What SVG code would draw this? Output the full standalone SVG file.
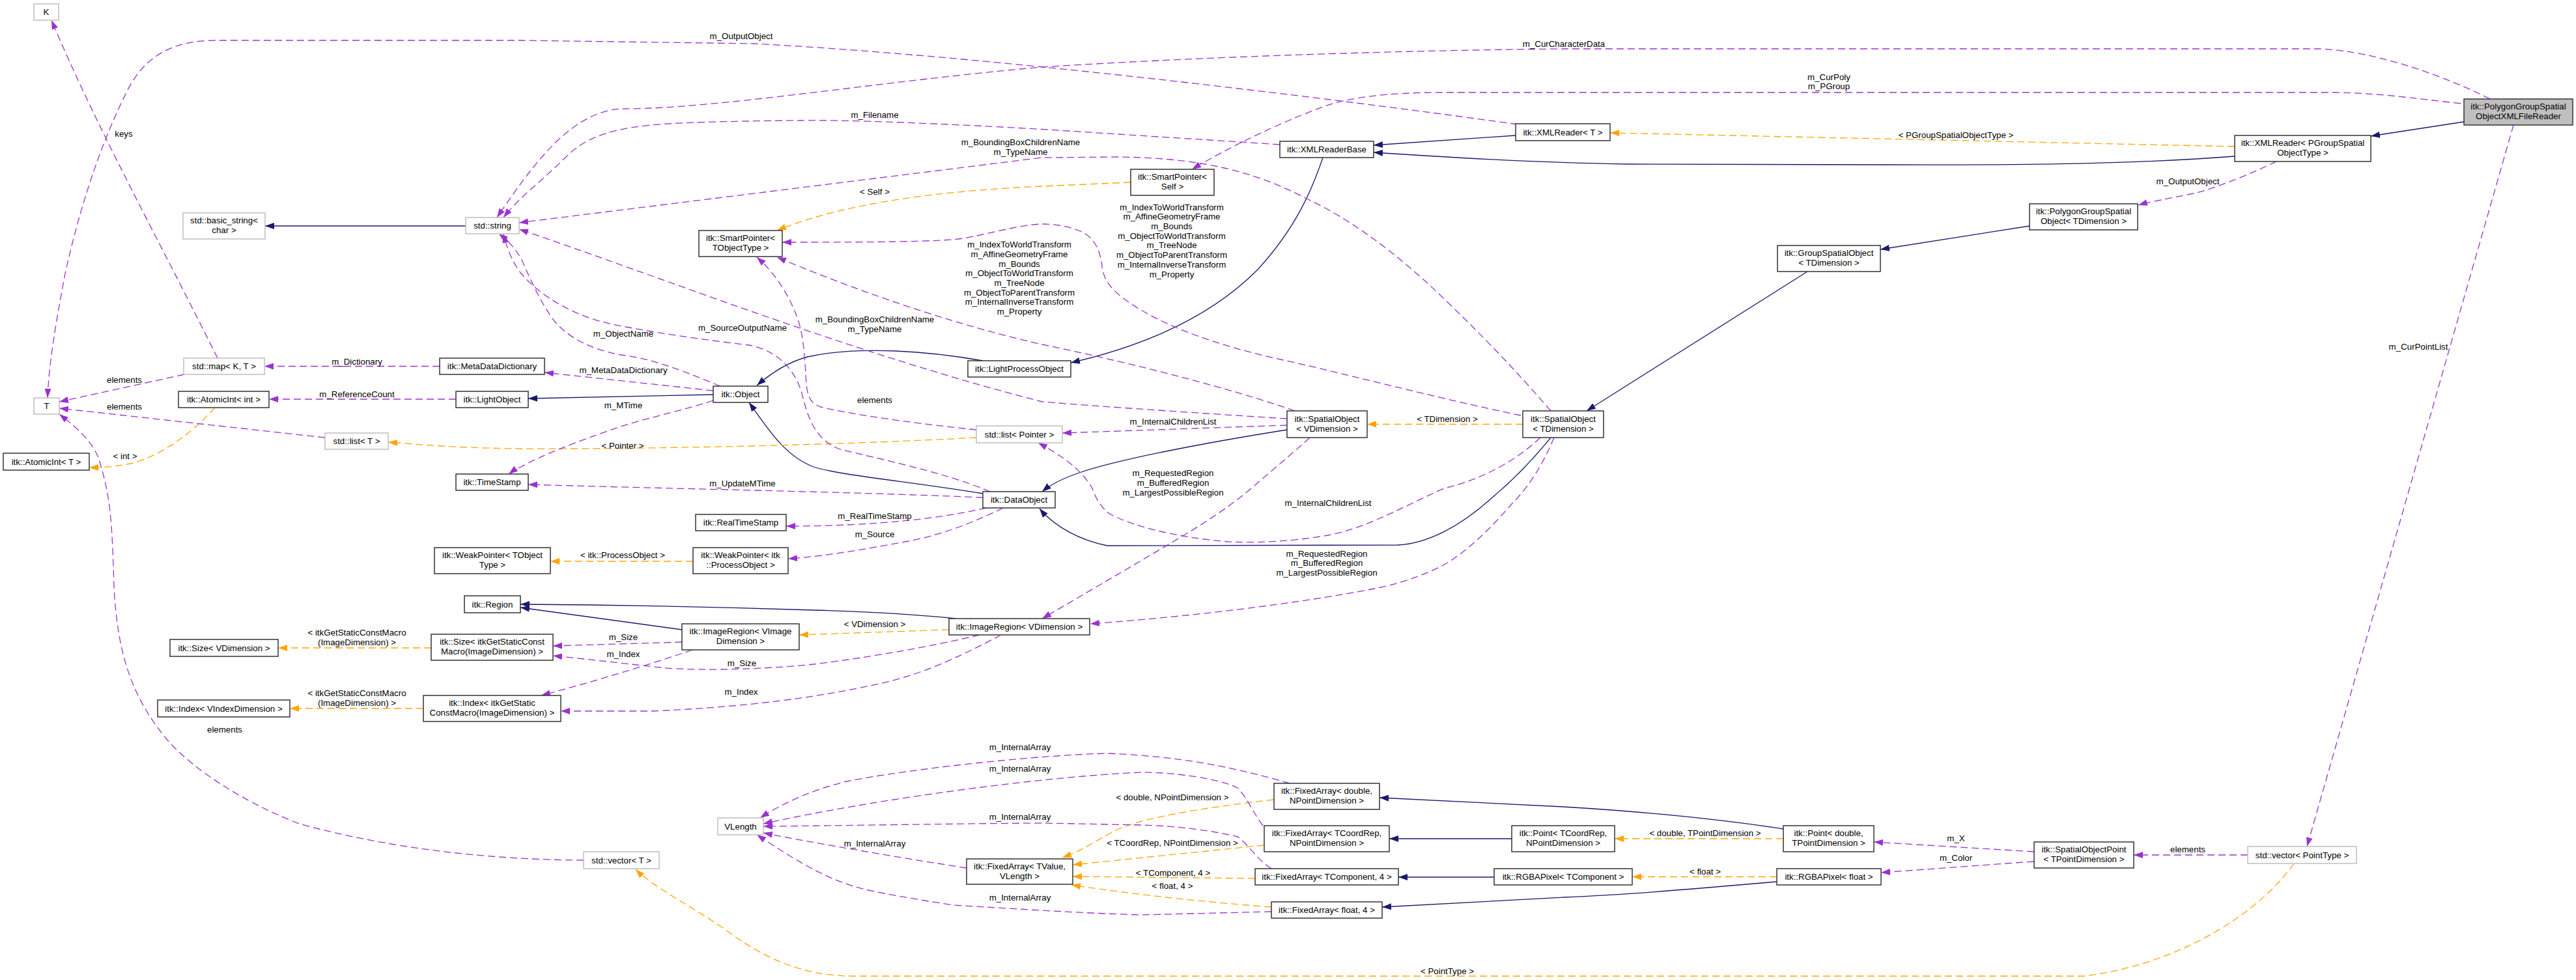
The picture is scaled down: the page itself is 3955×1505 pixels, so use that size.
<svg xmlns="http://www.w3.org/2000/svg" width="3955" height="1505" viewBox="0 0 3955 1505">
<style>
text{font-family:"Liberation Sans",Arial,Helvetica,sans-serif;font-size:13.3px;fill:#000;text-anchor:middle}
.nd rect{fill:#fff;stroke:#333;stroke-width:1.5}
.ng rect{fill:#fff;stroke:#bfbfbf;stroke-width:1.5}
.nm rect{fill:#bfbfbf;stroke:#333;stroke-width:1.5}
#edges path{fill:none;stroke-width:1.3}
#edges .inh{stroke:#191970;marker-end:url(#mi)}
#edges .mem{stroke:#9a32cd;stroke-dasharray:11,6;marker-end:url(#mp)}
#edges .tpl{stroke:#ffa500;stroke-dasharray:11,6;marker-end:url(#mo)}
</style>
<defs>
<marker id="mi" markerUnits="userSpaceOnUse" markerWidth="14" markerHeight="10" refX="14" refY="5" orient="auto"><path d="M0,0 L14,5 L0,10 z" fill="#191970"/></marker>
<marker id="mp" markerUnits="userSpaceOnUse" markerWidth="14" markerHeight="10" refX="14" refY="5" orient="auto"><path d="M0,0 L14,5 L0,10 z" fill="#9a32cd"/></marker>
<marker id="mo" markerUnits="userSpaceOnUse" markerWidth="14" markerHeight="10" refX="14" refY="5" orient="auto"><path d="M0,0 L14,5 L0,10 z" fill="#ffa500"/></marker>
</defs>
<rect x="0" y="0" width="3955" height="1505" fill="#fff"/>
<g id="edges">
<!-- inheritance -->
<path class="inh" d="M715,347 L407,347"/>
<path class="inh" d="M3783,187 L3640,209"/>
<path class="inh" d="M3431,240 C3300,250 3150,254 2900,253 L2500,252 C2350,250 2200,240 2109,234"/>
<path class="inh" d="M2327,208 L2109,223"/>
<path class="inh" d="M2031,242 C2015,290 1990,350 1930,415 C1850,495 1740,535 1644,557"/>
<path class="inh" d="M1509,554 C1430,540 1320,530 1240,548 C1210,556 1185,572 1162,592"/>
<path class="inh" d="M1095,606 L811,612"/>
<path class="inh" d="M1509,758 C1400,740 1290,730 1249,717 C1205,700 1180,660 1150,618"/>
<path class="inh" d="M1976,660 C1850,680 1720,705 1660,725 C1630,735 1612,745 1600,755"/>
<path class="inh" d="M2381,672 C2350,710 2320,740 2290,765 C2240,810 2190,835 2146,837 L1700,838 C1660,830 1620,810 1596,781"/>
<path class="inh" d="M2775,417 L2436,631"/>
<path class="inh" d="M3116,347 L2887,383"/>
<path class="inh" d="M2321,1288 L2133,1288"/>
<path class="inh" d="M2738,1273 C2620,1255 2500,1245 2400,1239 C2300,1234 2200,1229 2118,1225"/>
<path class="inh" d="M2294,1347 L2147,1347"/>
<path class="inh" d="M2728,1354 C2600,1365 2500,1374 2400,1378 C2300,1383 2200,1389 2122,1393"/>
<path class="inh" d="M1468,950 C1420,945 1350,940 1250,937 C1100,932 950,929 799,928"/>
<path class="inh" d="M1047,967 L799,933"/>
<!-- template instantiation -->
<path class="tpl" d="M3431,225 L2472,204"/>
<text x="3003" y="211.5">&lt; PGroupSpatialObjectType &gt;</text>
<path class="tpl" d="M1736,280 L1600,286 C1450,293 1300,310 1193,354"/>
<text x="1343" y="298.5">&lt; Self &gt;</text>
<path class="tpl" d="M1499,672 C1300,683 1000,690 800,689 C700,688 650,683 596,679"/>
<text x="956" y="688.5">&lt; Pointer &gt;</text>
<path class="tpl" d="M2338,651.5 L2099,651.5"/>
<text x="2222" y="647.5">&lt; TDimension &gt;</text>
<path class="tpl" d="M330,626 C300,660 250,700 200,712 C175,717 155,718 137,718"/>
<text x="192" y="704.5">&lt; int &gt;</text>
<path class="tpl" d="M1064,862 L845,862"/>
<text x="956" y="857">&lt; itk::ProcessObject &gt;</text>
<path class="tpl" d="M1457,967 L1227,975"/>
<text x="1343" y="963">&lt; VDimension &gt;</text>
<path class="tpl" d="M662,995 L427,995"/>
<text x="548" y="976">&lt; itkGetStaticConstMacro</text>
<text x="548" y="991">(ImageDimension) &gt;</text>
<path class="tpl" d="M650,1088 L445,1088"/>
<text x="548" y="1068.5">&lt; itkGetStaticConstMacro</text>
<text x="548" y="1084">(ImageDimension) &gt;</text>
<path class="tpl" d="M1956,1228 C1850,1240 1760,1255 1720,1272 C1690,1285 1670,1303 1631,1317"/>
<text x="1800" y="1229">&lt; double, NPointDimension &gt;</text>
<path class="tpl" d="M1941,1298 L1647,1328"/>
<text x="1800" y="1298.5">&lt; TCoordRep, NPointDimension &gt;</text>
<path class="tpl" d="M1927,1349 L1647,1346"/>
<text x="1801" y="1344.5">&lt; TComponent, 4 &gt;</text>
<path class="tpl" d="M1952,1393 C1850,1385 1750,1375 1645,1359"/>
<text x="1800" y="1365">&lt; float, 4 &gt;</text>
<path class="tpl" d="M2738,1288 L2479,1288"/>
<text x="2618" y="1284">&lt; double, TPointDimension &gt;</text>
<path class="tpl" d="M2728,1346.5 L2506,1346.5"/>
<text x="2618" y="1342.5">&lt; float &gt;</text>
<path class="tpl" d="M3522,1326 C3470,1400 3350,1480 3200,1499 L1310,1499 C1230,1499 1170,1470 1110,1425 C1050,1385 1000,1360 976,1335"/>
<text x="2222" y="1496">&lt; PointType &gt;</text>
<!-- members -->
<path class="mem" d="M2330,191 C2000,145 1500,85 1157,67 L800,62 L332,62 C260,62 220,90 195,140 C150,230 120,330 100,420 C85,500 75,560 73,611"/>
<text x="1138" y="59.5">m_OutputObject</text>
<path class="mem" d="M3823,152 C3760,120 3650,78 3560,75 L2400,75 C2100,78 1800,90 1600,103 C1350,125 1100,167 960,167 C880,167 820,250 763,334"/>
<text x="2401" y="71.5">m_CurCharacterData</text>
<path class="mem" d="M3778,159 C3700,150 3650,143 3585,142 L2212,142 C2130,142 2070,150 2034,163 C1960,190 1880,230 1830,260"/>
<text x="2808" y="123">m_CurPoly</text>
<text x="2808" y="137">m_PGroup</text>
<path class="mem" d="M3859,192 L3542,1300"/>
<text x="3713" y="536.5">m_CurPointList</text>
<path class="mem" d="M1965,222 L1600,198.5 C1450,190 1310,184 1230,185 C1100,186 1030,189 1000,192 C940,198 900,210 870,240 C830,280 800,300 773,334"/>
<text x="1343" y="180.5">m_Filename</text>
<path class="mem" d="M2381,631 C2320,560 2260,500 2212,454 C2140,385 2070,335 2008,306 C1930,265 1850,243 1720,241 L1600,242 L797,342"/>
<text x="1567" y="223">m_BoundingBoxChildrenName</text>
<text x="1567" y="237.5">m_TypeName</text>
<path class="mem" d="M1976,643 C1850,635 1700,625 1600,617 C1300,540 1000,420 797,352"/>
<text x="1343" y="495">m_BoundingBoxChildrenName</text>
<text x="1343" y="509.5">m_TypeName</text>
<path class="mem" d="M1988,631 C1900,600 1750,560 1600,529 C1450,495 1300,440 1193,395"/>
<text x="1565" y="380.3">m_IndexToWorldTransform</text>
<text x="1565" y="395.1">m_AffineGeometryFrame</text>
<text x="1565" y="410">m_Bounds</text>
<text x="1565" y="424.3">m_ObjectToWorldTransform</text>
<text x="1565" y="439.1">m_TreeNode</text>
<text x="1565" y="453.5">m_ObjectToParentTransform</text>
<text x="1565" y="468.3">m_InternalInverseTransform</text>
<text x="1565" y="483.2">m_Property</text>
<path class="mem" d="M2335,638 C2200,610 2050,570 1957,550 C1870,530 1800,505 1750,475 C1705,448 1695,430 1692,410 C1690,385 1680,365 1661,356 C1640,347 1620,344 1600,344 C1560,345 1500,365 1463,368 C1400,372 1300,372 1201,372"/>
<text x="1799" y="322.9">m_IndexToWorldTransform</text>
<text x="1799" y="337.2">m_AffineGeometryFrame</text>
<text x="1799" y="352.1">m_Bounds</text>
<text x="1799" y="367.4">m_ObjectToWorldTransform</text>
<text x="1799" y="381.3">m_TreeNode</text>
<text x="1799" y="396.1">m_ObjectToParentTransform</text>
<text x="1799" y="411.4">m_InternalInverseTransform</text>
<text x="1799" y="425.7">m_Property</text>
<path class="mem" d="M1499,660 C1400,650 1300,635 1260,625 C1245,620 1240,610 1238,590 C1236,560 1235,520 1225,490 C1210,450 1190,420 1162,395"/>
<text x="1343" y="619">elements</text>
<path class="mem" d="M1520,755 C1450,725 1350,705 1290,690 C1250,675 1240,640 1230,600 C1215,555 1180,535 1150,530 C1080,522 1000,510 940,498 C880,485 830,455 800,420 C785,400 778,380 773,359"/>
<text x="1140" y="507.5">m_SourceOutputName</text>
<path class="mem" d="M1106,593 C1050,570 1000,550 953,545 C900,535 870,515 851,493 C830,465 815,430 800,397 C790,380 780,370 766,359"/>
<text x="957" y="516.5">m_ObjectName</text>
<path class="mem" d="M1095,615 C1050,630 1000,640 953,655 C880,680 830,700 800,717 C790,722 785,725 781,728"/>
<text x="957" y="626.5">m_MTime</text>
<path class="mem" d="M1095,600 L836,572"/>
<text x="957" y="572.5">m_MetaDataDictionary</text>
<path class="mem" d="M1509,764 C1300,755 1004,750 811,744"/>
<text x="1140" y="746.5">m_UpdateMTime</text>
<path class="mem" d="M1514,780 C1450,795 1350,808 1207,808"/>
<text x="1343" y="796.5">m_RealTimeStamp</text>
<path class="mem" d="M1540,780 C1500,800 1450,820 1400,830 C1320,845 1260,855 1210,858"/>
<text x="1343" y="824.5">m_Source</text>
<path class="mem" d="M700,613 L413,613"/>
<text x="548" y="609.5">m_ReferenceCount</text>
<path class="mem" d="M675,562.5 L406,562.5"/>
<text x="548" y="559.5">m_Dictionary</text>
<path class="mem" d="M283,575 L91,617"/>
<text x="191" y="587.5">elements</text>
<path class="mem" d="M499,672 L91,627"/>
<text x="191" y="628.5">elements</text>
<path class="mem" d="M334,550 C250,380 150,200 79,31"/>
<text x="190" y="209.5">keys</text>
<path class="mem" d="M896,1321 C700,1320 550,1290 459,1265 C370,1230 300,1183 260,1140 C200,1070 180,1000 175,900 C172,800 170,760 150,700 C135,670 115,655 91,636"/>
<text x="345" y="1124.5">elements</text>
<path class="mem" d="M1484,1333 C1400,1320 1250,1295 1172,1279"/>
<text x="1343" y="1299.5">m_InternalArray</text>
<path class="mem" d="M1980,1203 C1900,1180 1820,1162 1702,1157 C1600,1159 1400,1180 1300,1200 C1240,1215 1200,1235 1167,1256"/>
<text x="1566" y="1152">m_InternalArray</text>
<path class="mem" d="M1939,1268 C1925,1250 1915,1225 1900,1210 C1870,1195 1800,1186 1753,1186 C1600,1193 1350,1226 1172,1265"/>
<text x="1566" y="1184.5">m_InternalArray</text>
<path class="mem" d="M1952,1334 C1930,1320 1915,1295 1900,1285 C1860,1275 1800,1268 1753,1267 L1600,1264 C1450,1265 1300,1268 1172,1269"/>
<text x="1566" y="1259">m_InternalArray</text>
<path class="mem" d="M1952,1400 L1753,1405 C1650,1402 1550,1395 1463,1390 C1400,1380 1340,1370 1310,1361 C1260,1345 1220,1320 1162,1282"/>
<text x="1566" y="1382.5">m_InternalArray</text>
<path class="mem" d="M1047,986 L849,992"/>
<text x="957" y="983">m_Size</text>
<path class="mem" d="M1063,998 C1000,1020 900,1050 831,1068"/>
<text x="957" y="1008.5">m_Index</text>
<path class="mem" d="M1504,975 C1420,995 1330,1010 1250,1020 C1150,1030 1050,1030 1004,1024 C950,1018 900,1012 849,1007"/>
<text x="1139" y="1023">m_Size</text>
<path class="mem" d="M1537,975 C1480,1005 1420,1035 1350,1050 C1250,1072 1150,1085 1004,1092 L861,1092"/>
<text x="1138" y="1067">m_Index</text>
<path class="mem" d="M3495,248 C3460,265 3400,290 3368,297 C3330,305 3300,310 3283,315"/>
<text x="3359" y="282.5">m_OutputObject</text>
<path class="mem" d="M3123,1308 L2877,1293"/>
<text x="3003" y="1291.5">m_X</text>
<path class="mem" d="M3123,1323 L2888,1340"/>
<text x="3003" y="1321.5">m_Color</text>
<path class="mem" d="M3451,1313 L3276,1313"/>
<text x="3359" y="1309">elements</text>
<path class="mem" d="M1976,653 L1631,665"/>
<text x="1801" y="651.5">m_InternalChildrenList</text>
<path class="mem" d="M2365,672 C2330,705 2280,735 2217,750 C2150,780 2100,810 2039,822 C1980,832 1930,834 1886,832 C1800,825 1730,805 1702,788 C1690,778 1682,765 1677,750 C1660,720 1630,700 1594,680"/>
<text x="2039" y="777">m_InternalChildrenList</text>
<path class="mem" d="M2011,672 C1980,700 1950,725 1921,750 C1880,785 1830,815 1784,842 C1720,880 1660,915 1600,950"/>
<text x="1801" y="731">m_RequestedRegion</text>
<text x="1801" y="745.5">m_BufferedRegion</text>
<text x="1801" y="760.5">m_LargestPossibleRegion</text>
<path class="mem" d="M2386,672 C2370,710 2350,745 2320,775 C2290,810 2250,850 2212,870 C2170,890 2140,898 2110,904 C2000,925 1850,945 1674,958"/>
<text x="2037" y="854.5">m_RequestedRegion</text>
<text x="2037" y="869">m_BufferedRegion</text>
<text x="2037" y="884">m_LargestPossibleRegion</text>
</g>
<g id="n_K" class="ng"><rect x="52" y="6" width="38" height="25"/><text x="71" y="23.2">K</text></g>
<g id="n_T" class="ng"><rect x="52" y="611" width="39" height="25"/><text x="71.5" y="628.2">T</text></g>
<g id="n_AtomicIntT" class="nd"><rect x="5" y="696" width="132" height="26"/><text x="71" y="713.7">itk::AtomicInt&lt; T &gt;</text></g>
<g id="n_basic_string" class="ng"><rect x="281" y="327" width="126" height="40"/><text x="344" y="343.3">std::basic_string&lt;</text><text x="344" y="358.3">char &gt;</text></g>
<g id="n_map" class="ng"><rect x="282" y="550" width="124" height="25"/><text x="344" y="567.2">std::map&lt; K, T &gt;</text></g>
<g id="n_AtomicIntInt" class="nd"><rect x="274" y="601" width="139" height="25"/><text x="343.5" y="618.2">itk::AtomicInt&lt; int &gt;</text></g>
<g id="n_listT" class="ng"><rect x="499" y="665" width="97" height="25"/><text x="547.5" y="682.2">std::list&lt; T &gt;</text></g>
<g id="n_string" class="ng"><rect x="715" y="334" width="82" height="25"/><text x="756" y="351.2">std::string</text></g>
<g id="n_MetaDataDictionary" class="nd"><rect x="675" y="550" width="161" height="25"/><text x="755.5" y="567.2">itk::MetaDataDictionary</text></g>
<g id="n_LightObject" class="nd"><rect x="700" y="601" width="111" height="25"/><text x="755.5" y="618.2">itk::LightObject</text></g>
<g id="n_TimeStamp" class="nd"><rect x="700" y="728" width="111" height="25"/><text x="755.5" y="745.2">itk::TimeStamp</text></g>
<g id="n_WeakPointerT" class="nd"><rect x="667" y="841" width="178" height="40"/><text x="756" y="857.3">itk::WeakPointer&lt; TObject</text><text x="756" y="872.3">Type &gt;</text></g>
<g id="n_Region" class="nd"><rect x="713" y="915" width="86" height="26"/><text x="756" y="932.7">itk::Region</text></g>
<g id="n_SizeV" class="nd"><rect x="261" y="982" width="166" height="26"/><text x="344" y="999.7">itk::Size&lt; VDimension &gt;</text></g>
<g id="n_SizeI" class="nd"><rect x="662" y="974" width="187" height="40"/><text x="755.5" y="990.3">itk::Size&lt; itkGetStaticConst</text><text x="755.5" y="1005.3">Macro(ImageDimension) &gt;</text></g>
<g id="n_IndexV" class="nd"><rect x="242" y="1075" width="203" height="26"/><text x="343.5" y="1092.7">itk::Index&lt; VIndexDimension &gt;</text></g>
<g id="n_IndexI" class="nd"><rect x="650" y="1068" width="211" height="40"/><text x="755.5" y="1084.3">itk::Index&lt; itkGetStatic</text><text x="755.5" y="1099.3">ConstMacro(ImageDimension) &gt;</text></g>
<g id="n_VLength" class="ng"><rect x="1102" y="1256" width="70" height="26"/><text x="1137" y="1273.7">VLength</text></g>
<g id="n_vectorT" class="ng"><rect x="896" y="1308" width="116" height="26"/><text x="954" y="1325.7">std::vector&lt; T &gt;</text></g>
<g id="n_SmartPointerT" class="nd"><rect x="1073" y="354" width="128" height="40"/><text x="1137" y="370.3">itk::SmartPointer&lt;</text><text x="1137" y="385.3">TObjectType &gt;</text></g>
<g id="n_Object" class="nd"><rect x="1095" y="593" width="84" height="25"/><text x="1137" y="610.2">itk::Object</text></g>
<g id="n_RealTimeStamp" class="nd"><rect x="1068" y="790" width="139" height="25"/><text x="1137.5" y="807.2">itk::RealTimeStamp</text></g>
<g id="n_WeakPointerPO" class="nd"><rect x="1064" y="841" width="146" height="40"/><text x="1137" y="857.3">itk::WeakPointer&lt; itk</text><text x="1137" y="872.3">::ProcessObject &gt;</text></g>
<g id="n_ImageRegionVI" class="nd"><rect x="1047" y="958" width="180" height="40"/><text x="1137" y="974.3">itk::ImageRegion&lt; VImage</text><text x="1137" y="989.3">Dimension &gt;</text></g>
<g id="n_LightProcessObject" class="nd"><rect x="1486" y="554" width="158" height="25"/><text x="1565" y="571.2">itk::LightProcessObject</text></g>
<g id="n_listPointer" class="ng"><rect x="1499" y="654" width="132" height="26"/><text x="1565" y="671.7">std::list&lt; Pointer &gt;</text></g>
<g id="n_DataObject" class="nd"><rect x="1509" y="755" width="111" height="25"/><text x="1564.5" y="772.2">itk::DataObject</text></g>
<g id="n_ImageRegionV" class="nd"><rect x="1457" y="950" width="216" height="25"/><text x="1565" y="967.2">itk::ImageRegion&lt; VDimension &gt;</text></g>
<g id="n_FixedArrayTV" class="nd"><rect x="1484" y="1319" width="163" height="39"/><text x="1565.5" y="1334.8">itk::FixedArray&lt; TValue,</text><text x="1565.5" y="1349.8">VLength &gt;</text></g>
<g id="n_SmartPointerSelf" class="nd"><rect x="1736" y="260" width="128" height="40"/><text x="1800" y="276.3">itk::SmartPointer&lt;</text><text x="1800" y="291.3">Self &gt;</text></g>
<g id="n_XMLReaderBase" class="nd"><rect x="1965" y="217" width="144" height="25"/><text x="2037" y="234.2">itk::XMLReaderBase</text></g>
<g id="n_SpatialObjectV" class="nd"><rect x="1976" y="631" width="123" height="41"/><text x="2037.5" y="647.8">itk::SpatialObject</text><text x="2037.5" y="662.8">&lt; VDimension &gt;</text></g>
<g id="n_FixedArrayD" class="nd"><rect x="1956" y="1203" width="162" height="40"/><text x="2037" y="1219.3">itk::FixedArray&lt; double,</text><text x="2037" y="1234.3">NPointDimension &gt;</text></g>
<g id="n_FixedArrayTC" class="nd"><rect x="1941" y="1268" width="192" height="40"/><text x="2037" y="1284.3">itk::FixedArray&lt; TCoordRep,</text><text x="2037" y="1299.3">NPointDimension &gt;</text></g>
<g id="n_FixedArrayComp" class="nd"><rect x="1927" y="1334" width="220" height="25"/><text x="2037" y="1351.2">itk::FixedArray&lt; TComponent, 4 &gt;</text></g>
<g id="n_FixedArrayF" class="nd"><rect x="1952" y="1385" width="170" height="25"/><text x="2037" y="1402.2">itk::FixedArray&lt; float, 4 &gt;</text></g>
<g id="n_XMLReaderT" class="nd"><rect x="2327" y="190" width="145" height="26"/><text x="2399.5" y="207.7">itk::XMLReader&lt; T &gt;</text></g>
<g id="n_SpatialObjectT" class="nd"><rect x="2338" y="631" width="124" height="41"/><text x="2400" y="647.8">itk::SpatialObject</text><text x="2400" y="662.8">&lt; TDimension &gt;</text></g>
<g id="n_PointTC" class="nd"><rect x="2321" y="1268" width="158" height="40"/><text x="2400" y="1284.3">itk::Point&lt; TCoordRep,</text><text x="2400" y="1299.3">NPointDimension &gt;</text></g>
<g id="n_RGBAPixelT" class="nd"><rect x="2294" y="1334" width="212" height="25"/><text x="2400" y="1351.2">itk::RGBAPixel&lt; TComponent &gt;</text></g>
<g id="n_GroupSpatialObject" class="nd"><rect x="2729" y="377" width="158" height="40"/><text x="2808" y="393.3">itk::GroupSpatialObject</text><text x="2808" y="408.3">&lt; TDimension &gt;</text></g>
<g id="n_PointD" class="nd"><rect x="2738" y="1268" width="139" height="40"/><text x="2807.5" y="1284.3">itk::Point&lt; double,</text><text x="2807.5" y="1299.3">TPointDimension &gt;</text></g>
<g id="n_RGBAPixelF" class="nd"><rect x="2728" y="1334" width="160" height="25"/><text x="2808" y="1351.2">itk::RGBAPixel&lt; float &gt;</text></g>
<g id="n_PolygonGroup" class="nd"><rect x="3116" y="313" width="166" height="40"/><text x="3199" y="329.3">itk::PolygonGroupSpatial</text><text x="3199" y="344.3">Object&lt; TDimension &gt;</text></g>
<g id="n_SpatialObjectPoint" class="nd"><rect x="3123" y="1293" width="153" height="40"/><text x="3199.5" y="1309.3">itk::SpatialObjectPoint</text><text x="3199.5" y="1324.3">&lt; TPointDimension &gt;</text></g>
<g id="n_XMLReaderPG" class="nd"><rect x="3431" y="208" width="209" height="40"/><text x="3535.5" y="224.3">itk::XMLReader&lt; PGroupSpatial</text><text x="3535.5" y="239.3">ObjectType &gt;</text></g>
<g id="n_vectorPointType" class="ng"><rect x="3451" y="1300" width="167" height="26"/><text x="3534.5" y="1317.7">std::vector&lt; PointType &gt;</text></g>
<g id="n_Main" class="nm"><rect x="3783" y="152" width="167" height="40"/><text x="3866.5" y="168.3">itk::PolygonGroupSpatial</text><text x="3866.5" y="183.3">ObjectXMLFileReader</text></g>
</svg>
